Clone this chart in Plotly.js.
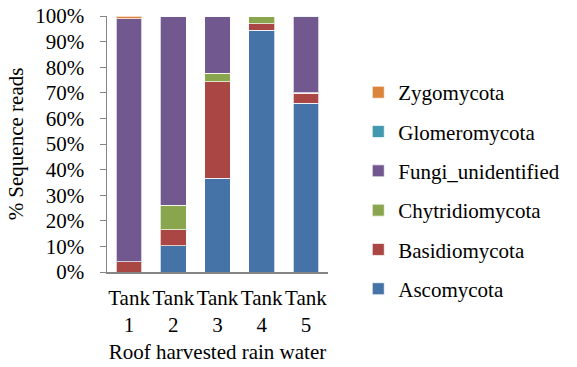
<!DOCTYPE html>
<html><head><meta charset="utf-8">
<script src="https://cdn.plot.ly/plotly-3.0.1.min.js"></script>
<style>html,body{margin:0;padding:0;background:#fff;}</style>
</head><body>
<div id="chart" style="width:577px;height:367px;"></div>
<script>
const categories = ["Tank<br>1", "Tank<br>2", "Tank<br>3", "Tank<br>4", "Tank<br>5"];
const ascomycota = [0, 10.3, 36.6, 94.4, 66.0];
const basidiomycota = [4.0, 6.3, 37.7, 2.5, 3.9];
const chytridiomycota = [0, 9.4, 3.4, 3.1, 0.2];
const fungiUnidentified = [94.9, 74.0, 22.3, 0, 29.6];
const glomeromycota = [0, 0, 0, 0, 0.3];
const zygomycota = [1.1, 0.3, 0, 0, 0];

const seriesNames = ["Ascomycota", "Basidiomycota", "Chytridiomycota", "Fungi_unidentified", "Glomeromycota", "Zygomycota"];
const seriesValues = [ascomycota, basidiomycota, chytridiomycota, fungiUnidentified, glomeromycota, zygomycota];
const seriesColors = ["#4572A7", "#AA4643", "#89A54E", "#71588F", "#4198AF", "#DB843D"];

const traces = seriesNames.map((n, i) => ({
  type: "bar",
  name: n,
  x: categories,
  y: seriesValues[i],
  legendgroup: n,
  legendrank: seriesNames.length - i,
  marker: {color: seriesColors[i], line: {color: "rgba(255,255,255,0.7)", width: 1}},
  hoverinfo: "skip"
}));

const font = {family: "Liberation Serif, Times New Roman, serif", size: 21, color: "#000"};

Plotly.newPlot("chart", traces, {
  width: 577, height: 367,
  margin: {l: 106.7, r: 220.3, t: 15.7, b: 95.3},
  barmode: "stack",
  bargap: 0.42,
  font: font,
  paper_bgcolor: "#fff", plot_bgcolor: "#fff",
  showlegend: true,
  legend: {
    traceorder: "grouped",
    tracegroupgap: 9,
    x: 1.137, xanchor: "left", y: 0.318, yanchor: "middle",
    font: font,
    itemwidth: 30
  },
  xaxis: {
    showline: true, linecolor: "#868686", linewidth: 1.5,
    ticks: "", showgrid: false, zeroline: false,
    tickfont: font, ticklabelstandoff: 6,
    title: {text: "Roof harvested rain water", font: font, standoff: 8}
  },
  yaxis: {
    range: [0, 100], showline: true, linecolor: "#868686", linewidth: 1.5,
    ticks: "outside", ticklen: 6, tickcolor: "#868686",
    dtick: 10, ticksuffix: "%", showgrid: false, zeroline: false,
    tickfont: font, ticklabelstandoff: 11,
    title: {text: "% Sequence reads", font: font, standoff: 6}
  }
}, {staticPlot: true});
</script>
</body></html>
